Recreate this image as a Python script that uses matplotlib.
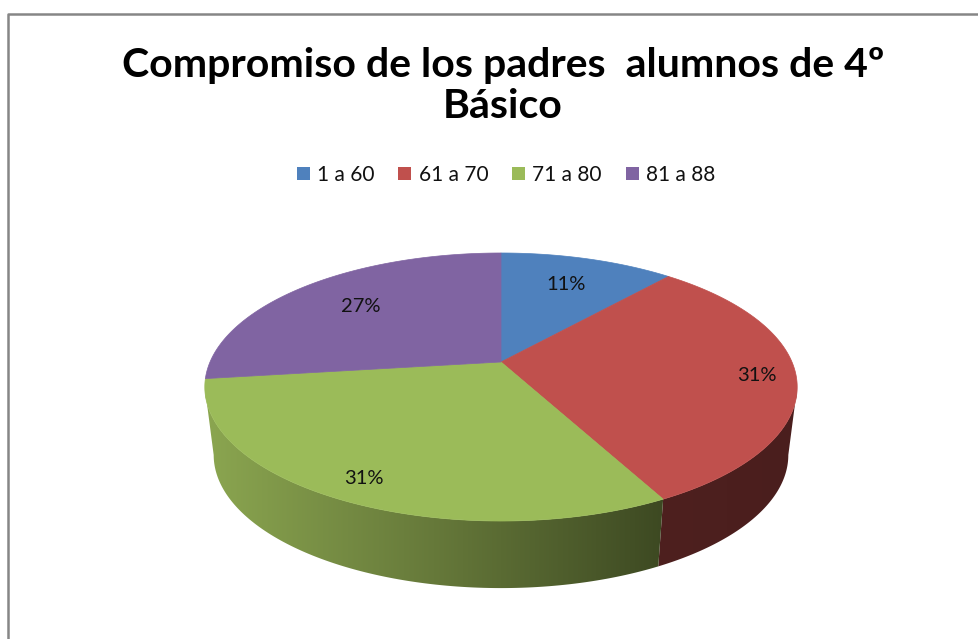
import numpy as np
import matplotlib
matplotlib.use('Agg')
import matplotlib.pyplot as plt
from matplotlib.colors import LinearSegmentedColormap
from matplotlib.patches import Patch, Polygon

# data
categories = ['1 a 60', '61 a 70', '71 a 80', '81 a 88']
values = [11.4, 30.9, 30.7, 27.0]
colors = ['#4f81bd', '#c0504d', '#9bbb59', '#8064a2']
title = 'Compromiso de los padres  alumnos de 4º\nBásico'

plt.rcParams['font.family'] = ['Lato', 'DejaVu Sans']

fig = plt.figure(figsize=(9.79, 6.39), dpi=100)
ax = fig.add_axes([0, 0, 1, 1])


# disc to picture, the pie is a tilted disc seen in perspective
def project(theta, r=1.0):
    u = r * np.sin(theta)
    v = r * np.cos(theta)
    d = 1 + 0.1866 * v
    return 501 + 291 * u / d, (362 - 61.8 * v) / d


def project_bottom(theta):
    x, y = project(theta)
    return 501 + (x - 501) * 0.97, 455 + (y - 387) * 0.993


bounds = np.concatenate([[0], np.cumsum(values)]) / np.sum(values) * 2 * np.pi
side_from = np.arccos(-0.1866)
side_to = 2 * np.pi - side_from

# sides first
side_cmaps = [None,
              LinearSegmentedColormap.from_list('red', ['#4e201f', '#4a1e1d']),
              LinearSegmentedColormap.from_list('green', ['#8ba650', '#66793a', '#3d4922'], ),
              None]
for i in range(4):
    a = max(bounds[i], side_from)
    b = min(bounds[i + 1], side_to)
    if a >= b or side_cmaps[i] is None:
        continue
    t = np.linspace(a, b, 120)
    xt, yt = project(t)
    xb, yb = project_bottom(t)
    pts = np.column_stack([np.r_[xt, xb[::-1]], np.r_[yt, yb[::-1]]])
    poly = Polygon(pts, closed=True, facecolor='none', edgecolor='none')
    ax.add_patch(poly)
    grad = np.linspace(0, 1, 256).reshape(1, -1)
    im = ax.imshow(grad, cmap=side_cmaps[i], aspect='auto', zorder=1,
                   extent=[pts[:, 0].min(), pts[:, 0].max(), 639, 0])
    im.set_clip_path(poly)

# top slices
for i in range(4):
    t = np.linspace(bounds[i], bounds[i + 1], 200)
    xt, yt = project(t)
    ax.fill(np.r_[501, xt], np.r_[362, yt], color=colors[i], lw=0.5, zorder=2)

# labels
label_r = [0.72, 0.87, 0.87, 0.70]
for i in range(4):
    x, y = project((bounds[i] + bounds[i + 1]) / 2, label_r[i])
    ax.text(x, y, '%d%%' % round(values[i]), fontsize=14.5, color='#111111',
            ha='center', va='center', zorder=3)

ax.text(503, 86, title, fontsize=29.5, fontweight='bold', color='black',
        ha='center', va='center', linespacing=1.12)

handles = [Patch(facecolor=c, edgecolor='none') for c in colors]
ax.legend(handles, categories, ncol=4, frameon=False, fontsize=15,
          loc='center', bbox_to_anchor=(506 / 979, 1 - 175 / 639),
          handlelength=0.62, handleheight=0.62, handletextpad=0.35,
          columnspacing=1.15, labelcolor='#111111')

# frame of the chart area
ax.plot([8.5, 8.5, 979], [639, 13.5, 13.5], color='#868686', lw=1.8, zorder=4)

ax.set_xlim(0, 979)
ax.set_ylim(639, 0)
ax.axis('off')
fig.savefig('out.png', dpi=100)
